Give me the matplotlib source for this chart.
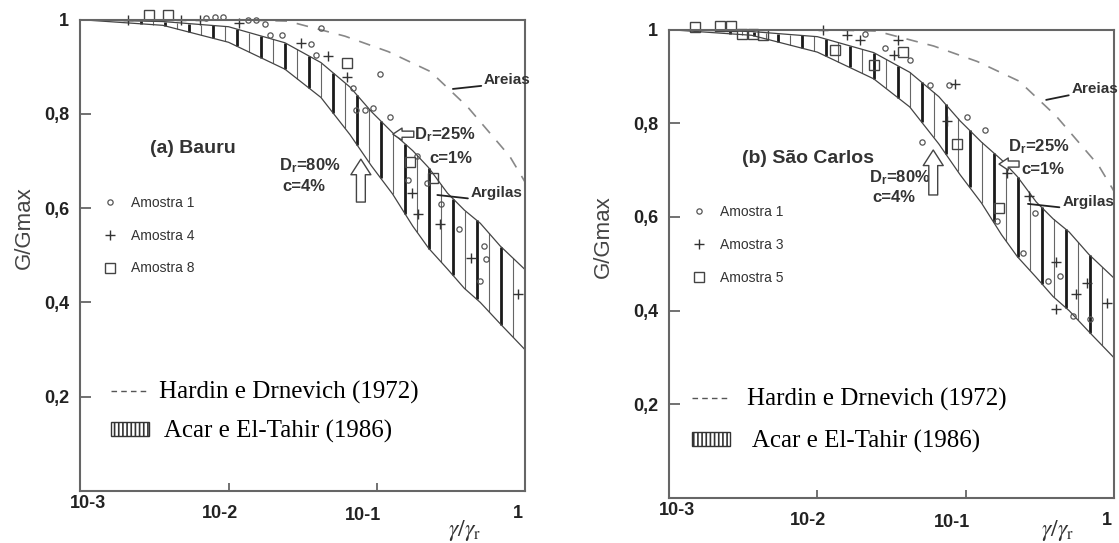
import numpy as np
import matplotlib.pyplot as plt
from matplotlib.lines import Line2D
from matplotlib.patches import Patch
from matplotlib.transforms import ScaledTranslation

plt.rcParams['font.family'] = ['Liberation Sans', 'DejaVu Sans']
plt.rcParams['mathtext.fontset'] = 'custom'
plt.rcParams['mathtext.rm'] = 'Liberation Sans:bold'
plt.rcParams['mathtext.bf'] = 'Liberation Sans:bold'
plt.rcParams['mathtext.it'] = 'Liberation Sans:bold'
plt.rcParams['hatch.linewidth'] = 1.2

# Acar e El-Tahir (1986): faixa, limite superior e inferior
band_x = [0.001, 0.0036, 0.01, 0.024, 0.042, 0.066, 0.092, 0.128, 0.175, 0.224, 0.30, 0.39, 0.50, 0.68, 1.0]
band_top = [1.0, 0.996, 0.985, 0.951, 0.909, 0.857, 0.805, 0.76, 0.722, 0.686, 0.632, 0.596, 0.568, 0.52, 0.47]
band_bot = [1.0, 0.988, 0.952, 0.895, 0.835, 0.756, 0.69, 0.63, 0.562, 0.515, 0.471, 0.43, 0.40, 0.355, 0.30]

# Hardin e Drnevich (1972)
hd_x = [0.001, 0.01, 0.025, 0.061, 0.12, 0.23, 0.41, 0.79, 1.0]
hd_y = [1.0, 1.0, 0.997, 0.965, 0.932, 0.89, 0.815, 0.71, 0.656]

xticks = [1e-3, 1e-2, 1e-1, 1]
xtick_labels = ['10-3', '10-2', '10-1', '1']
yticks = [0.2, 0.4, 0.6, 0.8, 1.0]
ytick_labels = ['0,2', '0,4', '0,6', '0,8', '1']

# (a) Bauru
bauru_a1_x = [0.0071, 0.0081, 0.0092, 0.0136, 0.0154, 0.0175, 0.019, 0.023, 0.036, 0.039, 0.042, 0.069,
              0.073, 0.083, 0.095, 0.105, 0.123, 0.163, 0.186, 0.217, 0.27, 0.36, 0.50, 0.53, 0.55]
bauru_a1_y = [1.004, 1.006, 1.006, 1.0, 1.0, 0.99, 0.967, 0.967, 0.948, 0.925, 0.982, 0.855,
              0.809, 0.809, 0.812, 0.885, 0.793, 0.66, 0.71, 0.654, 0.608, 0.555, 0.446, 0.52, 0.492]
bauru_a4_x = [0.0021, 0.0048, 0.0064, 0.0117, 0.031, 0.047, 0.063, 0.172, 0.19, 0.266, 0.435, 0.90]
bauru_a4_y = [1.0, 1.0, 1.0, 0.992, 0.95, 0.922, 0.879, 0.633, 0.587, 0.566, 0.495, 0.418]
bauru_a8_x = [0.0029, 0.0039, 0.063, 0.168, 0.24]
bauru_a8_y = [1.01, 1.01, 0.908, 0.697, 0.664]

# (b) Sao Carlos
sc_a1_x = [0.021, 0.0286, 0.042, 0.0507, 0.058, 0.077, 0.102, 0.135, 0.163, 0.246, 0.295, 0.36, 0.435, 0.535, 0.69]
sc_a1_y = [0.99, 0.96, 0.935, 0.761, 0.882, 0.882, 0.814, 0.786, 0.591, 0.524, 0.609, 0.463, 0.474, 0.389, 0.382]
sc_a3_x = [0.011, 0.0158, 0.0195, 0.033, 0.035, 0.075, 0.085, 0.19, 0.27, 0.41, 0.41, 0.56, 0.66, 0.90]
sc_a3_y = [0.999, 0.988, 0.978, 0.946, 0.978, 0.804, 0.885, 0.694, 0.644, 0.503, 0.403, 0.435, 0.46, 0.417]
sc_a5_x = [0.0015, 0.0022, 0.0026, 0.0031, 0.0037, 0.0043, 0.0131, 0.024, 0.038, 0.087, 0.168]
sc_a5_y = [1.006, 1.008, 1.008, 0.99, 0.99, 0.988, 0.956, 0.925, 0.953, 0.755, 0.62]

panels = [
    dict(rect=[0.0718, 0.0958, 0.3973, 0.868], title='(a) Bauru', title_xy=(0.254, 0.727),
         series=[(bauru_a1_x, bauru_a1_y, 'Amostra 1'), (bauru_a4_x, bauru_a4_y, 'Amostra 4'),
                 (bauru_a8_x, bauru_a8_y, 'Amostra 8')],
         leg1=(0.054, 0.626), leg2=(0.069, 0.233), leg2_sp=0.63, leg2_pad=0.4,
         ylab=(-0.103, 0.558), xlab=(0.865, -0.083),
         dr80=(0.447, 0.690), c4=(0.454, 0.645), up=(0.631, 0.613, 0.704),
         dr25=(0.751, 0.755), c1=(0.784, 0.706), left=(0.75, 0.703, 0.757),
         areias=((0.908, 0.872), (0.838, 0.853)), argilas=((0.878, 0.632), (0.803, 0.628))),
    dict(rect=[0.598, 0.0829, 0.3973, 0.8625], title='(b) São Carlos', title_xy=(0.313, 0.724),
         series=[(sc_a1_x, sc_a1_y, 'Amostra 1'), (sc_a3_x, sc_a3_y, 'Amostra 3'),
                 (sc_a5_x, sc_a5_y, 'Amostra 5')],
         leg1=(0.055, 0.625), leg2=(0.052, 0.234), leg2_sp=0.75, leg2_pad=0.7,
         ylab=(-0.124, 0.559), xlab=(0.873, -0.070),
         dr80=(0.45, 0.685), c4=(0.457, 0.641), up=(0.594, 0.647, 0.743),
         dr25=(0.762, 0.751), c1=(0.792, 0.702), left=(0.787, 0.742, 0.713),
         areias=((0.905, 0.873), (0.848, 0.85)), argilas=((0.884, 0.632), (0.807, 0.628))),
]

markers = [dict(marker='o', ms=3.8, mfc='none', mec='#555', mew=0.9),
           dict(marker='+', ms=7, mec='#333', mew=1.0),
           dict(marker='s', ms=6.5, mfc='none', mec='#444', mew=1.0)]

# deslocamento (px) dos rotulos do eixo x, como no original
xlab_dx = [8, -9, -14, -7]
xlab_dy = [-10, 0, 2, 0]

fig = plt.figure(figsize=(11.19, 5.43), dpi=100)

for p in panels:
    ax = fig.add_axes(p['rect'])
    ax.set_xscale('log')
    ax.set_xlim(1e-3, 1)
    ax.set_ylim(0, 1)

    # faixa hachurada
    lx = np.log10(band_x)
    hx = np.arange(0.0, -2.6, -0.081)
    lo = np.interp(hx, lx, band_bot)
    hi = np.interp(hx, lx, band_top)
    ax.vlines(10 ** hx[::2], lo[::2], hi[::2], colors='#1a1a1a', lw=2.0)
    ax.vlines(10 ** hx[1::2], lo[1::2], hi[1::2], colors='#666666', lw=0.8)
    ax.plot(band_x, band_top, color='#444', lw=0.9)
    ax.plot(band_x, band_bot, color='#444', lw=0.9)
    ax.plot(hd_x, hd_y, color='#888', lw=1.2, dashes=(7, 6))

    handles = []
    for (sx, sy, lab), mk in zip(p['series'], markers):
        h, = ax.plot(sx, sy, ls='none', clip_on=False, label=lab, **mk)
        handles.append(h)

    leg1 = ax.legend(handles=handles, loc='upper left', bbox_to_anchor=p['leg1'], frameon=False,
                     fontsize=10, labelcolor='#333', handlelength=0.8, handletextpad=1.1,
                     labelspacing=1.35, borderpad=0, borderaxespad=0, numpoints=1)
    ax.add_artist(leg1)
    h2 = [Line2D([], [], color='#555', lw=1.0, dashes=(4, 3)),
          Patch(facecolor='white', edgecolor='#333', hatch='||||')]
    ax.legend(h2, ['Hardin e Drnevich (1972)', ' Acar e El-Tahir (1986)'], loc='upper left',
              bbox_to_anchor=p['leg2'], frameon=False, prop={'family': 'Liberation Serif', 'size': 18},
              handlelength=1.5, handleheight=0.5, handletextpad=p['leg2_pad'], labelspacing=p['leg2_sp'],
              borderpad=0, borderaxespad=0)

    ax.text(*p['title_xy'], p['title'], transform=ax.transAxes, ha='center', va='center',
            fontsize=14, fontweight='bold', color='#333')

    txt = dict(transform=ax.transAxes, fontsize=12, fontweight='bold', color='#333', va='center', ha='left')
    ax.text(*p['dr80'], r'D$_\mathrm{r}$=80%', **txt)
    ax.text(*p['c4'], 'c=4%', **txt)
    ax.text(*p['dr25'], r'D$_\mathrm{r}$=25%', **txt)
    ax.text(*p['c1'], 'c=1%', **txt)

    ux, uy0, uy1 = p['up']
    ax.annotate('', xy=(ux, uy1), xytext=(ux, uy0), xycoords='axes fraction',
                arrowprops=dict(arrowstyle='simple,head_length=0.7,head_width=0.9,tail_width=0.4',
                                fc='white', ec='#444', lw=1, mutation_scale=16, shrinkA=0, shrinkB=0))
    lx0, lx1, ly = p['left']
    ax.annotate('', xy=(lx1, ly), xytext=(lx0, ly), xycoords='axes fraction',
                arrowprops=dict(arrowstyle='simple,head_length=0.6,head_width=0.8,tail_width=0.4',
                                fc='white', ec='#444', lw=1, mutation_scale=11, shrinkA=0, shrinkB=0))

    for key, name in (('areias', 'Areias'), ('argilas', 'Argilas')):
        tpos, lend = p[key]
        ax.annotate(name, xy=lend, xytext=tpos, xycoords='axes fraction', textcoords='axes fraction',
                    fontsize=11, fontweight='bold', color='#333', va='center', ha='left',
                    arrowprops=dict(arrowstyle='-', color='#222', lw=1.3, relpos=(0, 0.1),
                                    shrinkA=0, shrinkB=0))

    ax.set_xticks(xticks)
    ax.set_xticklabels(xtick_labels)
    ax.xaxis.set_minor_locator(plt.NullLocator())
    ax.set_yticks(yticks)
    ax.set_yticklabels(ytick_labels)
    ax.tick_params(axis='both', direction='in', colors='#666', labelcolor='#222',
                   labelsize=13, width=1.3)
    ax.tick_params(axis='x', length=6, pad=10)
    ax.tick_params(axis='y', length=8, pad=8)
    for lab in ax.get_xticklabels() + ax.get_yticklabels():
        lab.set_fontweight('bold')
    for lab, dx, dy in zip(ax.get_xticklabels(), xlab_dx, xlab_dy):
        lab.set_transform(lab.get_transform() + ScaledTranslation(dx / 100, -dy / 100, fig.dpi_scale_trans))
    for s in ax.spines.values():
        s.set_color('#666')
        s.set_linewidth(1.5)

    ax.set_ylabel('G/Gmax', fontsize=16, color='#444')
    ax.yaxis.set_label_coords(*p['ylab'])
    ax.text(*p['xlab'], r'$\gamma/\gamma_\mathrm{r}$', transform=ax.transAxes, ha='center', va='center',
            fontsize=17, color='#333', math_fontfamily='stix')

fig.savefig('out.png', dpi=100)
